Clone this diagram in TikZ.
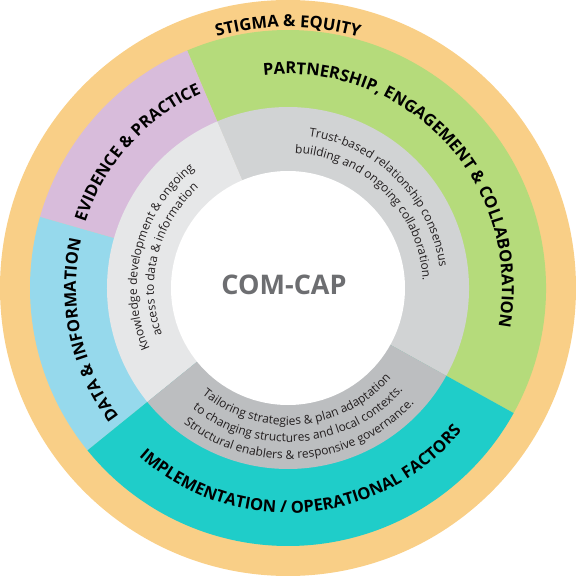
\documentclass[tikz,border=0pt]{standalone}
\usepackage{fontspec}
\setmainfont{Open Sans}
\usetikzlibrary{decorations.text}
\definecolor{stigma}{HTML}{F9CF87}
\definecolor{partner}{HTML}{B5DB7B}
\definecolor{evidence}{HTML}{D8BCDB}
\definecolor{datainfo}{HTML}{96D9EC}
\definecolor{implement}{HTML}{1FCDC9}
\definecolor{greyA}{HTML}{E6E7E8}
\definecolor{greyB}{HTML}{D1D3D4}
\definecolor{greyC}{HTML}{BCBEC0}
\definecolor{comcap}{HTML}{6D6E71}
\definecolor{inktext}{HTML}{231F20}
\newcommand{\ringsector}[4]{\fill[#1] (0,0) -- (#2:#4) arc[start angle=#2, end angle=#3, radius=#4] -- cycle;}
\newcommand{\cwtext}[4]{\path[decorate, decoration={text along path, text align=center, text={|#3|#4}}] ({#1+90}:#2) arc[start angle={#1+90}, end angle={#1-90}, radius=#2];}
\newcommand{\ccwtext}[4]{\path[decorate, decoration={text along path, text align=center, text={|#3|#4}}] ({#1-90}:#2) arc[start angle={#1-90}, end angle={#1+90}, radius=#2];}
\newcommand{\bigcaps}{\bfseries\fontsize{16.5}{20}\selectfont}
\newcommand{\smalltext}{\color{inktext}\fontsize{12}{14}\selectfont}

\begin{document}
\begin{tikzpicture}
	\useasboundingbox (-288pt,-288pt) rectangle (288pt,288pt);
	
	\fill[stigma] (0,0) circle (288pt);
	
	\ringsector{partner}{-29}{113}{258pt}
	\ringsector{evidence}{113}{164}{258pt}
	\ringsector{datainfo}{164}{219}{258pt}
	\ringsector{implement}{219}{331}{258pt}
	
	\ringsector{greyB}{-29}{113}{181pt}
	\ringsector{greyA}{113}{219}{181pt}
	\ringsector{greyC}{219}{331}{181pt}
	
	\fill[white] (0,0) circle (117pt);
	
	\node[text=comcap, font=\bfseries\fontsize{27}{30}\selectfont] (comcap) at (-4pt,3pt) {COM-CAP};
	
	\cwtext{90}{261pt}{\bigcaps}{STIGMA {\&} EQUITY}
	\cwtext{43}{214pt}{\bigcaps}{PARTNERSHIP, ENGAGEMENT {\&} COLLABORATION}
	\cwtext{138}{213pt}{\bigcaps}{EVIDENCE {\&} PRACTICE}
	\cwtext{192}{212pt}{\bigcaps}{DATA {\&} INFORMATION}
	\ccwtext{274.5}{225pt}{\bigcaps}{IMPLEMENTATION / OPERATIONAL FACTORS}
	
	\cwtext{45}{153pt}{\smalltext}{Trust-based relationship consensus}
	\cwtext{45}{135pt}{\smalltext}{building and ongoing collaboration.}
	\cwtext{166}{151pt}{\smalltext}{Knowledge development {\&} ongoing}
	\cwtext{166}{134pt}{\smalltext}{access to data {\&} information}
	\ccwtext{275}{137pt}{\smalltext}{Tailoring strategies {\&} plan adaptation}
	\ccwtext{275}{154pt}{\smalltext}{to changing structures and local contexts.}
	\ccwtext{275}{171pt}{\smalltext}{Structural enablers {\&} responsive governance.}
\end{tikzpicture}
\end{document}
